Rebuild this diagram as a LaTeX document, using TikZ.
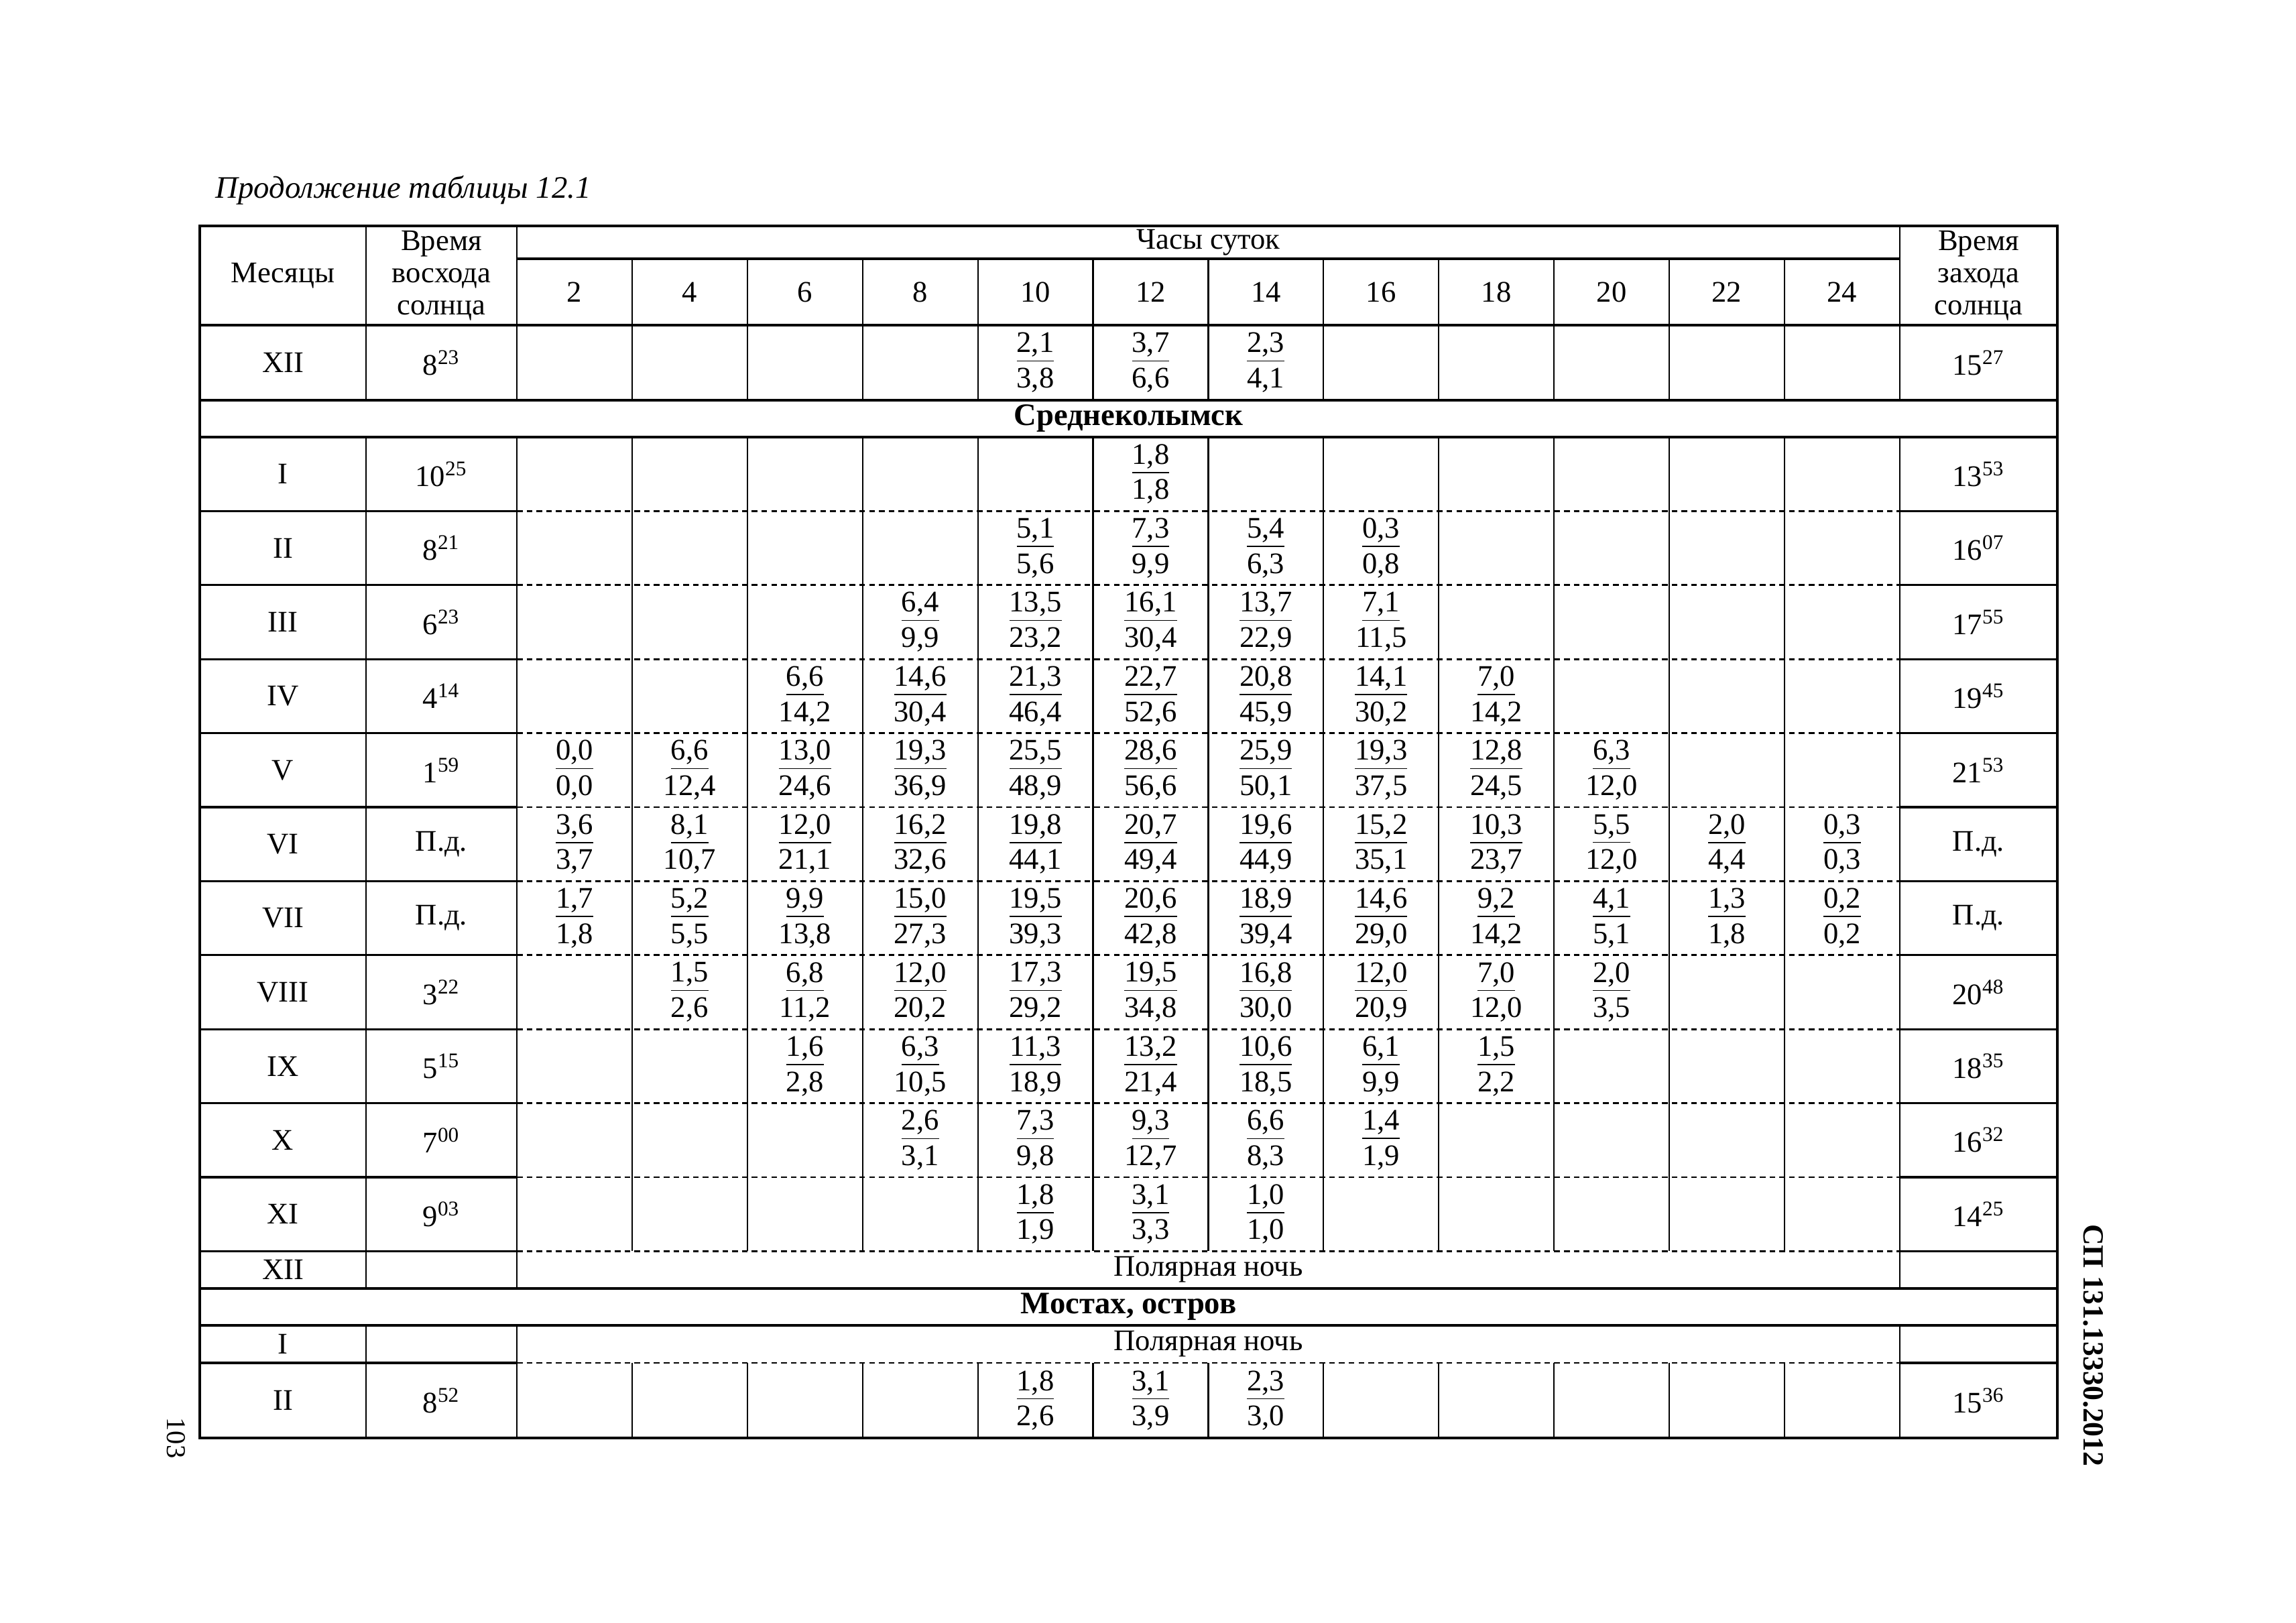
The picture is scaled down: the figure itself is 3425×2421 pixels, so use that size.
\documentclass[tikz,border=0pt]{standalone}
\usepackage{fontspec}
\setmainfont{Liberation Serif}

\tikzset{
  solidrule/.style={line width=0.8pt},
  thinrule/.style={line width=0.55pt},
  dotrule/.style={line width=0.7pt, dash pattern=on 2.1pt off 1.5pt},
  valcell/.style={align=center, inner sep=0pt, font=\fontsize{11}{13}\selectfont},
  headcell/.style={align=center, inner sep=0pt, font=\fontsize{11}{11.8}\selectfont},
  placecell/.style={inner sep=0pt, font=\fontsize{11.5}{13}\selectfont\bfseries},
}

% time of day with minutes raised
\newcommand{\clock}[2]{#1\textsuperscript{#2}}
% one pair of values in an hour column: row, y, column, top, bottom
\newcommand{\hval}[5]{\node[valcell] (#1-#3) at ({771+171.9*(#3-0.5)},#2) {\underline{#4}\\#5};}
% month, sunrise and sunset of a row
\newcommand{\mrow}[5]{%
  \node[valcell] (#1) at (422,#2) {#3};
  \node[valcell] (#1-rise) at (658.5,#2) {#4};
  \node[valcell] (#1-set) at (2951.5,#2) {#5};}

\begin{document}
\begin{tikzpicture}[x=0.0086715cm, y=-0.0086715cm]
\useasboundingbox (0,0) rectangle (3425,2421);
\node[anchor=west, inner sep=0pt, font=\fontsize{11.5}{13}\selectfont\itshape] (title) at (321,284) {Продолжение таблицы 12.1};
% Draw the frame and the full rules
\draw[solidrule] (298,337) rectangle (3069,2145);
\draw[solidrule] (771,386) -- (2834,386);
\foreach \y in {485,597,652,1922,1977}
  \draw[solidrule] (298,\y) -- (3069,\y);
% Draw the rules between months
\foreach \i [evaluate=\i as \yy using 652+110.4*\i] in {1,...,11} {
  \draw[solidrule] (298,\yy) -- (771,\yy);
  \draw[dotrule] (771,\yy) -- (2834,\yy);
  \draw[solidrule] (2834,\yy) -- (3069,\yy);
}
\draw[solidrule] (298,2033) -- (771,2033);
\draw[dotrule] (771,2033) -- (2834,2033);
\draw[solidrule] (2834,2033) -- (3069,2033);
% Draw the column lines
\foreach \x in {546,771,2834} {
  \draw[thinrule] (\x,337) -- (\x,597);
  \draw[thinrule] (\x,652) -- (\x,1922);
  \draw[thinrule] (\x,1977) -- (\x,2145);
}
\foreach \k [evaluate=\k as \xx using 771+171.9*\k] in {1,...,11} {
  \draw[thinrule] (\xx,386) -- (\xx,597);
  \draw[thinrule] (\xx,652) -- (\xx,1866.4);
  \draw[thinrule] (\xx,2033) -- (\xx,2145);
}
% Draw the head of the table
\node[headcell] (hdr-month) at (422,411) {Месяцы};
\node[headcell] (hdr-rise) at (658.5,411) {Время\\восхода\\солнца};
\node[headcell] (hdr-hours) at (1802.5,361.5) {Часы суток};
\node[headcell] (hdr-set) at (2951.5,411) {Время\\захода\\солнца};
\foreach \k in {1,...,12}
  \node[headcell] (h\k) at ({771+171.9*(\k-0.5)},435.5) {\pgfmathparse{int(2*\k)}\pgfmathresult};
% Draw the last row of the previous place
\mrow{x0}{541}{XII}{\clock{8}{23}}{\clock{15}{27}}
\hval{x0}{541}{5}{2,1}{3,8}
\hval{x0}{541}{6}{3,7}{6,6}
\hval{x0}{541}{7}{2,3}{4,1}
% Srednekolymsk
\node[placecell] (p1) at (1683.5,624.5) {Среднеколымск};
\mrow{s1}{707.2}{I}{\clock{10}{25}}{\clock{13}{53}}
\hval{s1}{707.2}{6}{1,8}{1,8}
\mrow{s2}{817.6}{II}{\clock{8}{21}}{\clock{16}{07}}
\hval{s2}{817.6}{5}{5,1}{5,6}
\hval{s2}{817.6}{6}{7,3}{9,9}
\hval{s2}{817.6}{7}{5,4}{6,3}
\hval{s2}{817.6}{8}{0,3}{0,8}
\mrow{s3}{928}{III}{\clock{6}{23}}{\clock{17}{55}}
\hval{s3}{928}{4}{6,4}{9,9}
\hval{s3}{928}{5}{13,5}{23,2}
\hval{s3}{928}{6}{16,1}{30,4}
\hval{s3}{928}{7}{13,7}{22,9}
\hval{s3}{928}{8}{7,1}{11,5}
\mrow{s4}{1038.4}{IV}{\clock{4}{14}}{\clock{19}{45}}
\hval{s4}{1038.4}{3}{6,6}{14,2}
\hval{s4}{1038.4}{4}{14,6}{30,4}
\hval{s4}{1038.4}{5}{21,3}{46,4}
\hval{s4}{1038.4}{6}{22,7}{52,6}
\hval{s4}{1038.4}{7}{20,8}{45,9}
\hval{s4}{1038.4}{8}{14,1}{30,2}
\hval{s4}{1038.4}{9}{7,0}{14,2}
\mrow{s5}{1148.8}{V}{\clock{1}{59}}{\clock{21}{53}}
\hval{s5}{1148.8}{1}{0,0}{0,0}
\hval{s5}{1148.8}{2}{6,6}{12,4}
\hval{s5}{1148.8}{3}{13,0}{24,6}
\hval{s5}{1148.8}{4}{19,3}{36,9}
\hval{s5}{1148.8}{5}{25,5}{48,9}
\hval{s5}{1148.8}{6}{28,6}{56,6}
\hval{s5}{1148.8}{7}{25,9}{50,1}
\hval{s5}{1148.8}{8}{19,3}{37,5}
\hval{s5}{1148.8}{9}{12,8}{24,5}
\hval{s5}{1148.8}{10}{6,3}{12,0}
\mrow{s6}{1259.2}{VI}{П.д.}{П.д.}
\hval{s6}{1259.2}{1}{3,6}{3,7}
\hval{s6}{1259.2}{2}{8,1}{10,7}
\hval{s6}{1259.2}{3}{12,0}{21,1}
\hval{s6}{1259.2}{4}{16,2}{32,6}
\hval{s6}{1259.2}{5}{19,8}{44,1}
\hval{s6}{1259.2}{6}{20,7}{49,4}
\hval{s6}{1259.2}{7}{19,6}{44,9}
\hval{s6}{1259.2}{8}{15,2}{35,1}
\hval{s6}{1259.2}{9}{10,3}{23,7}
\hval{s6}{1259.2}{10}{5,5}{12,0}
\hval{s6}{1259.2}{11}{2,0}{4,4}
\hval{s6}{1259.2}{12}{0,3}{0,3}
\mrow{s7}{1369.6}{VII}{П.д.}{П.д.}
\hval{s7}{1369.6}{1}{1,7}{1,8}
\hval{s7}{1369.6}{2}{5,2}{5,5}
\hval{s7}{1369.6}{3}{9,9}{13,8}
\hval{s7}{1369.6}{4}{15,0}{27,3}
\hval{s7}{1369.6}{5}{19,5}{39,3}
\hval{s7}{1369.6}{6}{20,6}{42,8}
\hval{s7}{1369.6}{7}{18,9}{39,4}
\hval{s7}{1369.6}{8}{14,6}{29,0}
\hval{s7}{1369.6}{9}{9,2}{14,2}
\hval{s7}{1369.6}{10}{4,1}{5,1}
\hval{s7}{1369.6}{11}{1,3}{1,8}
\hval{s7}{1369.6}{12}{0,2}{0,2}
\mrow{s8}{1480}{VIII}{\clock{3}{22}}{\clock{20}{48}}
\hval{s8}{1480}{2}{1,5}{2,6}
\hval{s8}{1480}{3}{6,8}{11,2}
\hval{s8}{1480}{4}{12,0}{20,2}
\hval{s8}{1480}{5}{17,3}{29,2}
\hval{s8}{1480}{6}{19,5}{34,8}
\hval{s8}{1480}{7}{16,8}{30,0}
\hval{s8}{1480}{8}{12,0}{20,9}
\hval{s8}{1480}{9}{7,0}{12,0}
\hval{s8}{1480}{10}{2,0}{3,5}
\mrow{s9}{1590.4}{IX}{\clock{5}{15}}{\clock{18}{35}}
\hval{s9}{1590.4}{3}{1,6}{2,8}
\hval{s9}{1590.4}{4}{6,3}{10,5}
\hval{s9}{1590.4}{5}{11,3}{18,9}
\hval{s9}{1590.4}{6}{13,2}{21,4}
\hval{s9}{1590.4}{7}{10,6}{18,5}
\hval{s9}{1590.4}{8}{6,1}{9,9}
\hval{s9}{1590.4}{9}{1,5}{2,2}
\mrow{s10}{1700.8}{X}{\clock{7}{00}}{\clock{16}{32}}
\hval{s10}{1700.8}{4}{2,6}{3,1}
\hval{s10}{1700.8}{5}{7,3}{9,8}
\hval{s10}{1700.8}{6}{9,3}{12,7}
\hval{s10}{1700.8}{7}{6,6}{8,3}
\hval{s10}{1700.8}{8}{1,4}{1,9}
\mrow{s11}{1811.2}{XI}{\clock{9}{03}}{\clock{14}{25}}
\hval{s11}{1811.2}{5}{1,8}{1,9}
\hval{s11}{1811.2}{6}{3,1}{3,3}
\hval{s11}{1811.2}{7}{1,0}{1,0}
\node[valcell] (s12) at (422,1894) {XII};
\node[valcell] (s12-night) at (1802.5,1894) {Полярная ночь};
% Mostakh island
\node[placecell] (p2) at (1683.5,1949.5) {Мостах, остров};
\node[valcell] (m1) at (422,2005) {I};
\node[valcell] (m1-night) at (1802.5,2005) {Полярная ночь};
\mrow{m2}{2089}{II}{\clock{8}{52}}{\clock{15}{36}}
\hval{m2}{2089}{5}{1,8}{2,6}
\hval{m2}{2089}{6}{3,1}{3,9}
\hval{m2}{2089}{7}{2,3}{3,0}
% Draw the page marks
\node[rotate=-90, inner sep=0pt, font=\fontsize{10}{12}\selectfont] (page) at (263,2145) {103};
\node[rotate=-90, inner sep=0pt, font=\fontsize{10.8}{12}\selectfont\bfseries] (code) at (3123,2007) {СП 131.13330.2012};
\end{tikzpicture}
\end{document}
